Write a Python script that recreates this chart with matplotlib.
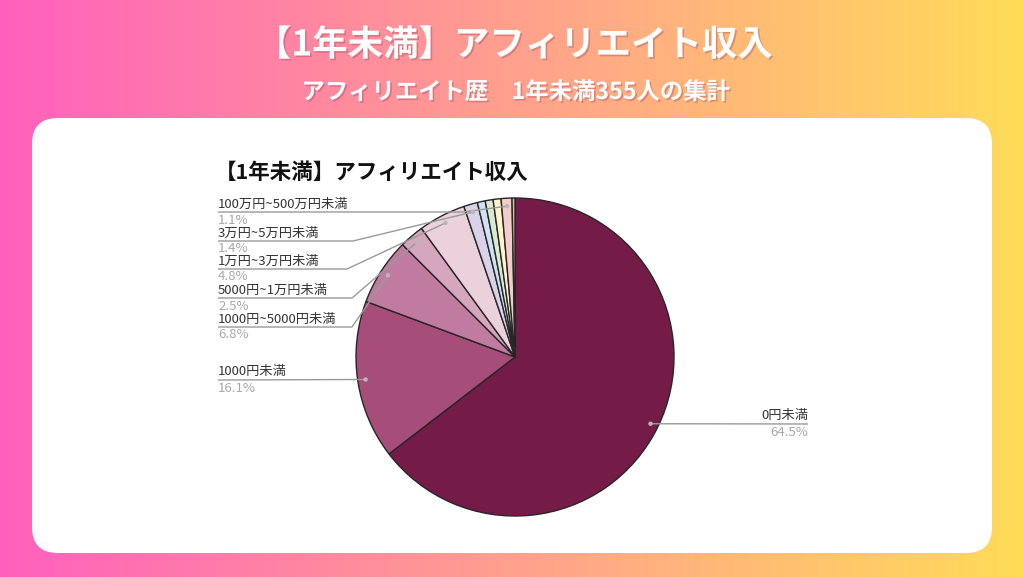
import matplotlib
matplotlib.use('Agg')
import matplotlib.pyplot as plt
import matplotlib.patheffects as pe
from matplotlib.patches import FancyBboxPatch, Circle
import numpy as np

plt.rcParams['font.family'] = ['Noto Sans CJK JP', 'DejaVu Sans']

# data
categories = ['0円未満', '1000円未満', '1000円~5000円未満', '5000円~1万円未満',
              '1万円~3万円未満', '3万円~5万円未満', '5万円~10万円未満',
              '10万円~50万円未満', '50万円~100万円未満', '100万円~500万円未満',
              '500万円以上']
shares = [64.5, 16.1, 6.8, 2.5, 4.8, 1.4, 0.8, 0.8, 0.8, 1.1, 0.3]
colors = ['#741b47', '#a64d79', '#c27ba0', '#d5a6bd', '#ead1dc', '#d9d2e9',
          '#cfe2f3', '#d9ead3', '#fff2cc', '#f4cccc', '#e6b8af']
labelled = [0, 1, 2, 3, 4, 5, 9]

heading = '【1年未満】アフィリエイト収入'
subheading = 'アフィリエイト歴　1年未満355人の集計'
chart_title = '【1年未満】アフィリエイト収入'

# layout (pixels, y downward)
W, H = 1024, 577
cx, cy, r = 515, 357, 159
# label line y, elbow x (None = straight), side
label_pos = {
    9: (212, 463, 'left'),
    5: (241, 353, 'left'),
    4: (269, 347, 'left'),
    3: (298, 352, 'left'),
    2: (327, 352, 'left'),
    1: (380, None, 'left'),
    0: (424, None, 'right'),
}
left_x, right_x = 218, 808

fig = plt.figure(figsize=(W / 100, H / 100), dpi=100)
ax = fig.add_axes([0, 0, 1, 1])

# gradient background
stops = np.array([[255, 96, 190], [255, 160, 142], [255, 220, 88]]) / 255
t = np.linspace(0, 1, 512)
grad = np.stack([np.interp(t, [0, 0.5, 1], stops[:, k]) for k in range(3)], axis=-1)
ax.imshow(grad[None, :, :], extent=(0, W, H, 0), aspect='auto', zorder=0)

card = FancyBboxPatch((32, 118), 960, 435, boxstyle='round,pad=0,rounding_size=26',
                      facecolor='white', edgecolor='none', zorder=1)
ax.add_patch(card)

shadow = [pe.withSimplePatchShadow(offset=(1.2, -1.2), shadow_rgbFace=(0.55, 0.2, 0.3), alpha=0.3)]
ax.text(W / 2 + 2, 45, heading, ha='center', va='center', color='white',
        fontsize=25.5, fontweight='bold', zorder=3, path_effects=shadow)
ax.text(W / 2 + 4, 92, subheading, ha='center', va='center', color='white',
        fontsize=16.8, fontweight='bold', zorder=3, path_effects=shadow)

ax.text(215, 172, chart_title, ha='left', va='center', color='#111111',
        fontsize=15.5, fontweight='bold', zorder=3)

# pie: y axis is inverted, so counterclockwise in data = clockwise on screen
wedges, _ = ax.pie(shares, colors=colors, startangle=-90, counterclock=True,
                   center=(cx, cy), radius=r,
                   wedgeprops=dict(edgecolor='#262626', linewidth=1.0))
for w in wedges:
    w.set_zorder(2)

for i in labelled:
    w = wedges[i]
    mid = np.deg2rad((w.theta1 + w.theta2) / 2)
    dx = cx + 0.95 * r * np.cos(mid)
    dy = cy + 0.95 * r * np.sin(mid)
    ly, ex, side = label_pos[i]
    if side == 'left':
        xs = [left_x] + ([ex] if ex else []) + [dx]
        ys = [ly] + ([ly] if ex else []) + [dy]
        tx, ha = left_x, 'left'
    else:
        xs = [dx, right_x]
        ys = [dy, ly]
        tx, ha = right_x, 'right'
    ax.plot(xs, ys, color='#9a9a9a', lw=1.0, zorder=3, solid_capstyle='butt')
    ax.add_patch(Circle((dx, dy), 2.2, facecolor='#b8b8b8', edgecolor='none', zorder=4))
    ax.text(tx, ly - 1.5, categories[i], ha=ha, va='bottom', color='#333333',
            fontsize=9.5, zorder=4)
    ax.text(tx, ly + 1.5, f'{shares[i]:.1f}%', ha=ha, va='top', color='#a8a8a8',
            fontsize=9.5, zorder=4)

ax.set_xlim(0, W)
ax.set_ylim(H, 0)
ax.set_aspect('auto')
ax.axis('off')

fig.savefig('out.png', dpi=100)
